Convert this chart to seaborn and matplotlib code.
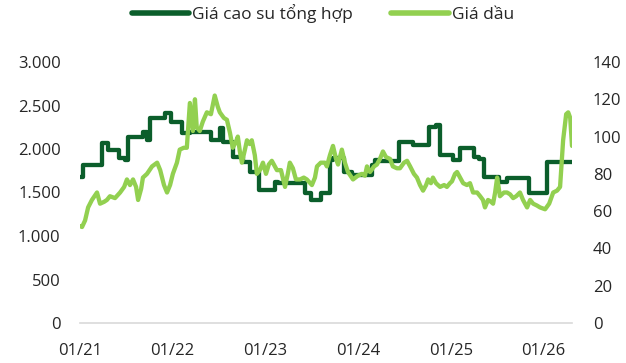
import matplotlib
matplotlib.use("Agg")
import matplotlib.pyplot as plt
import matplotlib.dates as mdates
from matplotlib.lines import Line2D
from matplotlib.ticker import FuncFormatter, MultipleLocator
import pandas as pd
import seaborn as sns

# Synthetic rubber price (left axis) - step changes
rubber_dates = [
    "2021-01-01", "2021-01-13", "2021-03-29", "2021-04-21", "2021-06-04", "2021-06-27",
    "2021-07-09", "2021-09-06", "2021-09-22", "2021-10-04", "2021-12-02", "2021-12-26",
    "2022-02-07", "2022-03-11", "2022-06-02", "2022-07-06", "2022-07-18", "2022-08-26",
    "2022-10-05", "2022-11-01", "2022-12-07", "2023-02-08", "2023-02-20", "2023-06-06",
    "2023-06-30", "2023-08-08", "2023-09-13", "2023-09-25", "2023-11-07", "2023-12-09",
    "2024-02-26", "2024-03-08", "2024-03-28", "2024-06-11", "2024-08-05", "2024-10-07",
    "2024-11-04", "2024-11-20", "2025-01-10", "2025-02-07", "2025-04-03", "2025-04-23",
    "2025-05-12", "2025-07-11", "2025-08-11", "2025-11-06", "2026-01-16", "2026-04-24",
]
rubber_values = [
    1680, 1816, 2070, 1990, 1900, 1870,
    2140, 2200, 2100, 2360, 2410, 2310,
    2180, 2200, 2100, 2240, 2080, 1910,
    1850, 1735, 1530, 1620, 1610, 1500,
    1410, 1500, 1870, 1900, 1735, 1700,
    1816, 1870, 1860, 2080, 2045, 2250,
    2280, 1930, 1870, 2010, 1910, 1880,
    1680, 1620, 1670, 1500, 1850, 1850,
]

# Oil price (right axis)
oil_dates = [
    "2021-01-01", "2021-01-09", "2021-01-21", "2021-02-02", "2021-02-17", "2021-03-09",
    "2021-03-21", "2021-04-06", "2021-04-17", "2021-04-29", "2021-05-19", "2021-06-08",
    "2021-06-24", "2021-07-05", "2021-07-17", "2021-07-29", "2021-08-10", "2021-08-18",
    "2021-08-30", "2021-09-06", "2021-09-22", "2021-10-12", "2021-11-01", "2021-11-13",
    "2021-11-28", "2021-12-10", "2021-12-22", "2022-01-02", "2022-01-18", "2022-01-29",
    "2022-02-14", "2022-02-26", "2022-03-10", "2022-03-22", "2022-03-30", "2022-04-06",
    "2022-04-18", "2022-04-30", "2022-05-16", "2022-06-01", "2022-06-16", "2022-06-28",
    "2022-07-06", "2022-07-22", "2022-08-03", "2022-08-15", "2022-08-26", "2022-09-07",
    "2022-09-15", "2022-09-23", "2022-10-01", "2022-10-13", "2022-10-21", "2022-11-01",
    "2022-11-09", "2022-11-21", "2022-11-29", "2022-12-11", "2022-12-23", "2023-01-04",
    "2023-01-15", "2023-01-27", "2023-02-08", "2023-02-16", "2023-03-04", "2023-03-20",
    "2023-03-31", "2023-04-08", "2023-04-20", "2023-05-02", "2023-05-18", "2023-06-02",
    "2023-06-14", "2023-07-04", "2023-07-16", "2023-07-24", "2023-08-08", "2023-08-24",
    "2023-09-01", "2023-09-13", "2023-09-25", "2023-10-07", "2023-10-15", "2023-10-30",
    "2023-11-11", "2023-11-23", "2023-12-13", "2024-01-01", "2024-01-17", "2024-01-29",
    "2024-02-06", "2024-02-18", "2024-03-05", "2024-03-16", "2024-03-28", "2024-04-09",
    "2024-04-21", "2024-05-07", "2024-05-18", "2024-06-03", "2024-06-15", "2024-07-01",
    "2024-07-13", "2024-07-25", "2024-08-09", "2024-08-21", "2024-09-02", "2024-09-14",
    "2024-09-26", "2024-10-04", "2024-10-15", "2024-10-23", "2024-11-04", "2024-11-20",
    "2024-12-06", "2024-12-17", "2024-12-29", "2025-01-06", "2025-01-18", "2025-01-26",
    "2025-02-07", "2025-02-19", "2025-03-06", "2025-03-18", "2025-03-30", "2025-04-15",
    "2025-04-27", "2025-05-08", "2025-05-16", "2025-05-28", "2025-06-09", "2025-06-17",
    "2025-06-25", "2025-07-03", "2025-07-14", "2025-07-30", "2025-08-11", "2025-08-23",
    "2025-09-04", "2025-09-16", "2025-10-01", "2025-10-13", "2025-10-29", "2025-11-10",
    "2025-11-22", "2025-12-07", "2025-12-19", "2026-01-08", "2026-01-24", "2026-02-09",
    "2026-02-24", "2026-03-08", "2026-03-20", "2026-04-01", "2026-04-09", "2026-04-17",
    "2026-04-24",
]
oil_values = [
    52, 51.5, 55, 62, 66, 70,
    64, 65, 66, 68, 67, 70,
    73, 77, 74, 77, 73, 66,
    72, 78, 80, 84, 86, 82,
    74, 70, 74, 80, 86, 93,
    94, 94, 118, 103, 120, 105,
    103, 108, 113, 112, 122, 116,
    113, 110, 109, 102, 94, 97,
    100, 92, 86, 93, 98, 96,
    98, 90, 80, 82, 86, 80,
    85, 87, 84, 82, 82, 73,
    80, 86, 83, 77, 77, 78,
    77, 74, 78, 84, 86, 86,
    84, 90, 95, 88, 85, 93,
    86, 81, 77, 79, 80, 79,
    84, 81, 84, 85, 88, 92,
    89, 88, 84, 83, 83, 86,
    87, 84, 80, 78, 74, 71,
    74, 77, 75, 78, 75, 73,
    74, 73, 75, 76, 80, 81,
    78, 75, 74, 75, 70, 70,
    68, 66, 62, 66, 65, 64,
    70, 78, 68, 70, 70, 69,
    67, 68, 70, 66, 62, 66,
    64, 63, 62, 61, 64, 70,
    71, 73, 98, 112, 113, 110,
    95,
]

year_ticks = ["2021-01-01", "2022-01-01", "2023-01-01", "2024-01-01", "2025-01-01", "2026-01-01"]

rubber_label = "Giá cao su tổng hợp"
oil_label = "Giá dầu"

dark_green = "#0B5E2B"
light_green = "#92D050"
text_color = "#262626"
axis_gray = "#D9D9D9"

rubber = pd.DataFrame({"date": pd.to_datetime(rubber_dates), "value": rubber_values})
oil = pd.DataFrame({"date": pd.to_datetime(oil_dates), "value": oil_values})

sns.set_theme(style="white")
plt.rcParams["font.family"] = ["Open Sans", "DejaVu Sans"]

fig = plt.figure(figsize=(6.26, 3.63), dpi=100)
ax = fig.add_axes([80 / 626, 40 / 363, (572 - 80) / 626, (323 - 62) / 363])
ax2 = ax.twinx()

sns.lineplot(data=rubber, x="date", y="value", ax=ax, color=dark_green,
             linewidth=3.1, drawstyle="steps-post", legend=False)
sns.lineplot(data=oil, x="date", y="value", ax=ax2, color=light_green,
             linewidth=3.1, legend=False)

ax.set_xlim(rubber["date"].iloc[0], rubber["date"].iloc[-1])
ax.set_ylim(0, 3000)
ax2.set_ylim(0, 140)

ax.yaxis.set_major_locator(MultipleLocator(500))
ax.yaxis.set_major_formatter(FuncFormatter(lambda v, p: f"{int(v):,}".replace(",", ".")))
ax2.yaxis.set_major_locator(MultipleLocator(20))

ax.set_xticks(pd.to_datetime(year_ticks))
ax.xaxis.set_major_formatter(mdates.DateFormatter("%m/%y"))

for a in (ax, ax2):
    a.set_xlabel("")
    a.set_ylabel("")
    for side in ("top", "left", "right", "bottom"):
        a.spines[side].set_visible(False)
    a.grid(False)

ax.spines["bottom"].set_visible(True)
ax.spines["bottom"].set_color(axis_gray)
ax.spines["bottom"].set_linewidth(1.2)

ax.tick_params(axis="x", colors=axis_gray, length=4, width=1.2, direction="out",
               labelcolor=text_color, labelsize=12, pad=10.5)
ax.tick_params(axis="y", length=0, labelsize=12, labelcolor=text_color, pad=14)
ax2.tick_params(axis="y", length=0, labelsize=12, labelcolor=text_color, pad=15)

handles = [
    Line2D([], [], color=dark_green, linewidth=4, solid_capstyle="round"),
    Line2D([], [], color=light_green, linewidth=4, solid_capstyle="round"),
]
fig.legend(handles, [rubber_label, oil_label], loc="center", bbox_to_anchor=(0.516, 1 - 14 / 363),
           ncol=2, frameon=False, fontsize=12.5, handlelength=3.3, handletextpad=0.2,
           columnspacing=2.2, labelcolor=text_color)

fig.savefig("out.png", dpi=100)
